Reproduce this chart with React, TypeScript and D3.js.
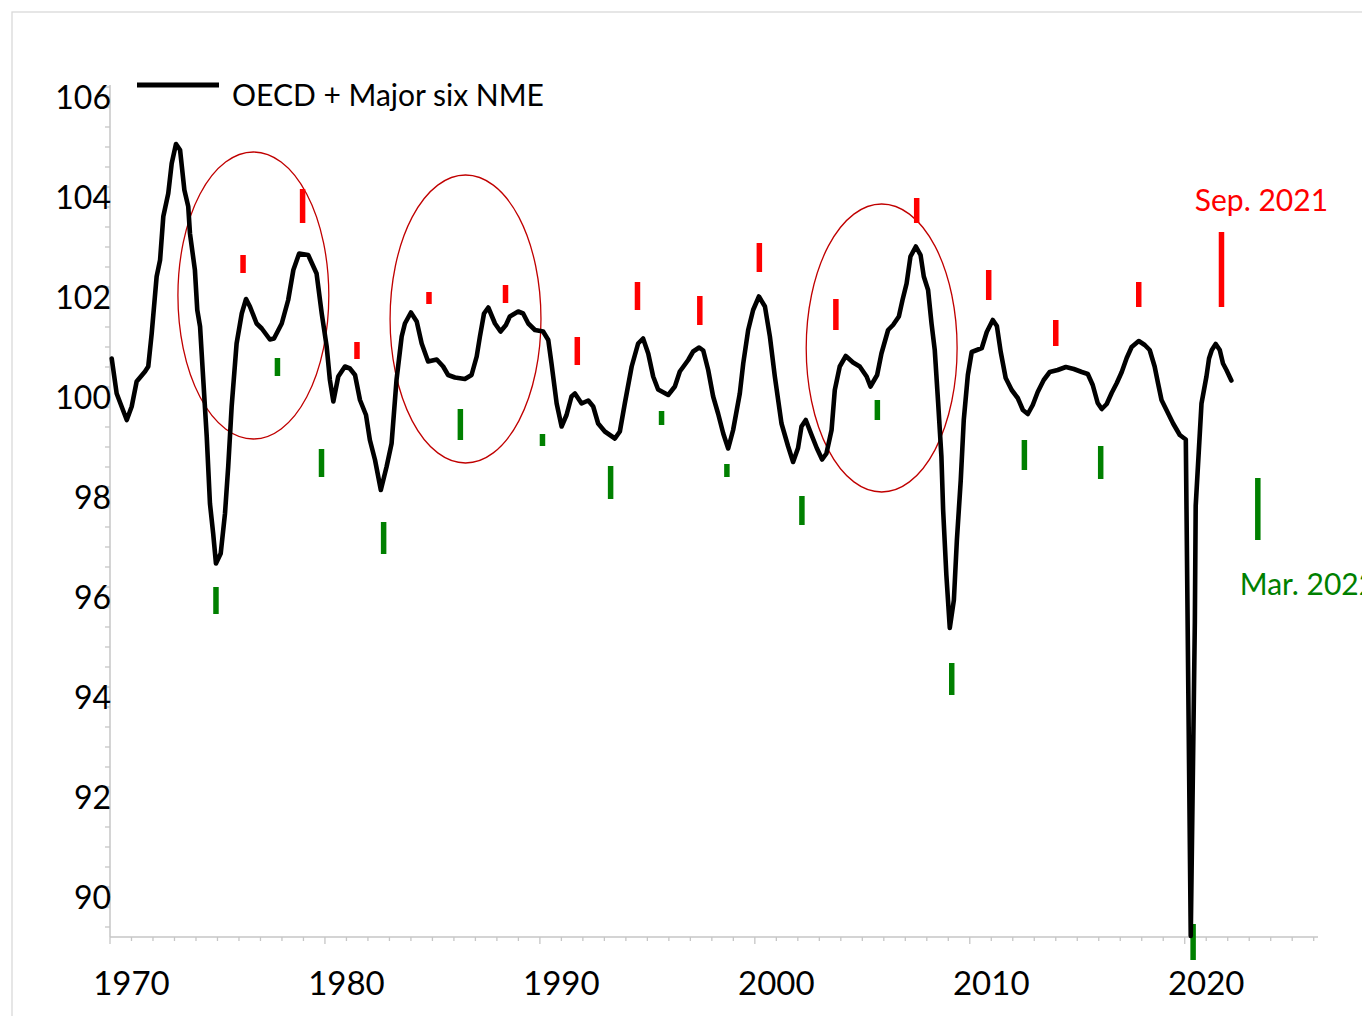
import * as d3 from "d3";

// composite leading indicator (decimal year, index value)
const cliDates = [
  1970.08, 1970.31, 1970.54, 1970.78, 1971.01, 1971.24, 1971.63, 1971.78, 1971.94, 1972.17,
  1972.33, 1972.48, 1972.71, 1972.87, 1973.07, 1973.26, 1973.46, 1973.64, 1973.72, 1973.95,
  1974.06, 1974.19, 1974.34, 1974.5, 1974.65, 1974.8, 1974.93, 1975.15, 1975.35, 1975.5,
  1975.66, 1975.89, 1976.13, 1976.33, 1976.51, 1976.82, 1977.06, 1977.44, 1977.63, 1977.99,
  1978.29, 1978.53, 1978.8, 1979.22, 1979.61, 1979.85, 1980.08, 1980.23, 1980.39, 1980.62,
  1980.93, 1981.16, 1981.4, 1981.63, 1981.91, 1982.09, 1982.33, 1982.6, 1982.87, 1983.1,
  1983.33, 1983.57, 1983.72, 1984.0, 1984.27, 1984.5, 1984.8, 1985.2, 1985.5, 1985.73,
  1986.05, 1986.51, 1986.82, 1987.06, 1987.21, 1987.4, 1987.6, 1987.91, 1988.17, 1988.42,
  1988.6, 1988.99, 1989.22, 1989.46, 1989.77, 1990.15, 1990.39, 1990.54, 1990.78, 1991.01,
  1991.24, 1991.47, 1991.63, 1991.94, 1992.25, 1992.48, 1992.71, 1993.02, 1993.49, 1993.72,
  1993.95, 1994.27, 1994.57, 1994.8, 1995.04, 1995.27, 1995.5, 1995.97, 1996.28, 1996.51,
  1996.9, 1997.13, 1997.41, 1997.6, 1997.83, 1998.06, 1998.29, 1998.53, 1998.76, 1998.99,
  1999.3, 1999.46, 1999.69, 1999.92, 2000.19, 2000.47, 2000.7, 2000.93, 2001.24, 2001.55,
  2001.78, 2002.01, 2002.17, 2002.37, 2002.64, 2002.88, 2003.13, 2003.33, 2003.57, 2003.72,
  2003.95, 2004.23, 2004.57, 2004.88, 2005.2, 2005.38, 2005.69, 2005.89, 2006.2, 2006.43,
  2006.7, 2006.87, 2007.06, 2007.24, 2007.49, 2007.71, 2007.86, 2008.06, 2008.22, 2008.37,
  2008.53, 2008.68, 2008.76, 2008.91, 2009.07, 2009.26, 2009.4, 2009.58, 2009.72, 2009.91,
  2010.09, 2010.33, 2010.56, 2010.79, 2011.07, 2011.26, 2011.44, 2011.67, 2011.95, 2012.23,
  2012.47, 2012.7, 2012.93, 2013.16, 2013.44, 2013.72, 2014.09, 2014.47, 2014.84, 2015.21,
  2015.49, 2015.72, 2015.95, 2016.14, 2016.37, 2016.6, 2016.84, 2017.07, 2017.3, 2017.53,
  2017.86, 2018.14, 2018.37, 2018.6, 2018.76, 2018.92, 2019.15, 2019.46, 2019.77, 2020.05,
  2020.28, 2020.47, 2020.51, 2020.78, 2021.01, 2021.13, 2021.26, 2021.44, 2021.63, 2021.78,
  2021.94, 2022.17,
];
const cliValues = [
  100.77, 100.07, 99.81, 99.54, 99.81, 100.31, 100.51, 100.61, 101.27, 102.41,
  102.74, 103.61, 104.07, 104.67, 105.06, 104.94, 104.14, 103.81, 103.27, 102.54,
  101.74, 101.41, 100.34, 99.21, 97.87, 97.27, 96.67, 96.87, 97.67, 98.61,
  99.81, 101.07, 101.67, 101.96, 101.81, 101.47, 101.37, 101.15, 101.17, 101.47,
  101.94, 102.54, 102.87, 102.84, 102.47, 101.67, 101.01, 100.34, 99.91, 100.41,
  100.61, 100.57, 100.44, 99.94, 99.64, 99.14, 98.74, 98.14, 98.61, 99.07,
  100.34, 101.21, 101.47, 101.69, 101.51, 101.07, 100.71, 100.75, 100.61, 100.44,
  100.39, 100.36, 100.44, 100.81, 101.21, 101.67, 101.79, 101.47, 101.31, 101.44,
  101.61, 101.71, 101.67, 101.47, 101.34, 101.31, 101.14, 100.67, 99.87, 99.41,
  99.64, 100.01, 100.07, 99.87, 99.93, 99.81, 99.47, 99.31, 99.17, 99.31,
  99.87, 100.61, 101.07, 101.17, 100.87, 100.41, 100.15, 100.04, 100.21, 100.51,
  100.74, 100.91, 100.99, 100.93, 100.54, 100.01, 99.67, 99.27, 98.97, 99.34,
  100.07, 100.67, 101.34, 101.74, 102.01, 101.81, 101.21, 100.41, 99.47, 99.01,
  98.7, 98.98, 99.41, 99.54, 99.24, 98.98, 98.75, 98.87, 99.34, 100.14,
  100.61, 100.82, 100.69, 100.61, 100.41, 100.21, 100.44, 100.87, 101.34, 101.44,
  101.61, 101.94, 102.27, 102.81, 103.01, 102.84, 102.41, 102.14, 101.47, 100.94,
  99.87, 98.81, 97.74, 96.44, 95.38, 95.94, 97.14, 98.34, 99.54, 100.44,
  100.9, 100.94, 100.98, 101.3, 101.54, 101.42, 100.9, 100.38, 100.14, 99.98,
  99.74, 99.66, 99.84, 100.1, 100.34, 100.5, 100.54, 100.6, 100.56, 100.5,
  100.46, 100.24, 99.88, 99.76, 99.86, 100.08, 100.28, 100.5, 100.78, 101.0,
  101.12, 101.04, 100.94, 100.61, 100.27, 99.94, 99.74, 99.47, 99.24, 99.15,
  89.22, 95.48, 97.82, 99.87, 100.41, 100.77, 100.94, 101.06, 100.94, 100.67,
  100.54, 100.33,
];

// peak markers (red) and trough markers (green): date, upper value, lower value
const peakDates = [1976.19, 1978.96, 1981.49, 1984.84, 1988.4, 1991.74, 1994.54, 1997.44, 2000.21, 2003.77, 2007.53, 2010.88, 2014.0, 2017.86, 2021.71];
const peakHigh = [102.84, 104.16, 101.1, 102.1, 102.24, 101.2, 102.3, 102.02, 103.08, 101.96, 103.98, 102.54, 101.54, 102.3, 103.3];
const peakLow = [102.48, 103.48, 100.76, 101.86, 101.88, 100.64, 101.74, 101.44, 102.5, 101.34, 103.48, 101.94, 101.02, 101.8, 101.8];

const troughDates = [1974.93, 1977.79, 1979.84, 1982.73, 1986.3, 1990.12, 1993.29, 1995.66, 1998.7, 2002.19, 2005.7, 2009.16, 2012.54, 2016.09, 2020.39, 2023.4];
const troughHigh = [96.2, 100.78, 98.96, 97.5, 99.76, 99.26, 98.62, 99.72, 98.66, 98.02, 99.94, 94.68, 99.14, 99.02, 89.46, 98.38];
const troughLow = [95.66, 100.42, 98.4, 96.86, 99.14, 99.02, 97.96, 99.44, 98.4, 97.44, 99.54, 94.04, 98.54, 98.36, 88.74, 97.14];

// highlighted episodes: centre date/value and half extents
const circleDates = [1976.67, 1986.54, 2005.9];
const circleValues = [102.03, 101.56, 100.98];
const circleYears = [3.51, 3.51, 3.51];
const circleSpan = [2.87, 2.88, 2.88];

const xTickYears = [1970, 1980, 1990, 2000, 2010, 2020];
const yTickLabels = [90, 92, 94, 96, 98, 100, 102, 104, 106];

const seriesName = "OECD + Major six NME";
const notes = [
  { text: "Sep. 2021", date: 2020.47, value: 103.72, color: "#ff0000" },
  { text: "Mar. 2022", date: 2022.56, value: 96.04, color: "#008000" },
];

const W = 1362;
const H = 1016;
const FONT = "Lato, 'Open Sans', sans-serif";

export default function App() {
  const x = d3.scaleLinear().domain([1970, 2026.2]).range([110, 1318]);
  const y = d3.scaleLinear().domain([89.2, 106.24]).range([937, 85]);

  const line = d3
    .line<number>()
    .x((d, i) => x(cliDates[i]))
    .y((d) => y(d));

  const yMinor = d3.range(89.4, 106.25, 0.4);
  const xMinor = d3.range(1970, 2027, 1);
  const axisColor = "#c6c6c6";

  return (
    <svg
      width={W}
      height={H}
      style={{ position: "absolute", left: 0, top: 0, background: "#fff" }}
      fontFamily={FONT}
    >
      <rect x={12} y={12} width={W} height={H} fill="#fff" stroke="#d9d9d9" strokeWidth={1.3} />

      {/* axes */}
      <line x1={x(1970)} x2={x(1970)} y1={y(106.24)} y2={y(89.2)} stroke={axisColor} strokeWidth={1.5} />
      {yMinor.map((v) => (
        <line key={"yt" + v} x1={x(1970) - 5} x2={x(1970)} y1={y(v)} y2={y(v)} stroke={axisColor} strokeWidth={1.3} />
      ))}
      <line x1={x(1970)} x2={x(2026.2)} y1={y(89.2)} y2={y(89.2)} stroke={axisColor} strokeWidth={1.5} />
      {xMinor.map((yr) => (
        <line
          key={"xt" + yr}
          x1={x(yr)}
          x2={x(yr)}
          y1={y(89.2)}
          y2={y(89.2) + (yr % 10 === 0 ? 7 : 4)}
          stroke={axisColor}
          strokeWidth={1.3}
        />
      ))}
      {yTickLabels.map((v) => (
        <text key={"yl" + v} x={111} y={y(v)} dy="0.36em" textAnchor="end" fontSize={32} fill="#000">
          {v}
        </text>
      ))}
      {xTickYears.map((yr) => (
        <text key={"xl" + yr} x={x(yr + 1)} y={995} textAnchor="middle" fontSize={33} fill="#000">
          {yr}
        </text>
      ))}

      {/* highlighted episodes */}
      {circleDates.map((d, i) => (
        <ellipse
          key={"c" + i}
          cx={x(d)}
          cy={y(circleValues[i])}
          rx={x(d + circleYears[i]) - x(d)}
          ry={y(circleValues[i] - circleSpan[i]) - y(circleValues[i])}
          fill="none"
          stroke="#c00000"
          strokeWidth={1.3}
        />
      ))}

      {/* turning point markers */}
      {peakDates.map((d, i) => (
        <line key={"p" + i} x1={x(d)} x2={x(d)} y1={y(peakHigh[i])} y2={y(peakLow[i])} stroke="#ff0000" strokeWidth={5.5} />
      ))}
      {troughDates.map((d, i) => (
        <line key={"t" + i} x1={x(d)} x2={x(d)} y1={y(troughHigh[i])} y2={y(troughLow[i])} stroke="#008000" strokeWidth={5.5} />
      ))}

      <path d={line(cliValues) || ""} fill="none" stroke="#000" strokeWidth={4.6} strokeLinejoin="round" strokeLinecap="round" />

      {/* legend */}
      <line x1={137} x2={219} y1={85} y2={85} stroke="#000" strokeWidth={5} />
      <text x={232} y={106} fontSize={30} fill="#000">
        {seriesName}
      </text>

      {notes.map((n) => (
        <text key={n.text} x={x(n.date)} y={y(n.value)} fontSize={30} fill={n.color}>
          {n.text}
        </text>
      ))}
    </svg>
  );
}
